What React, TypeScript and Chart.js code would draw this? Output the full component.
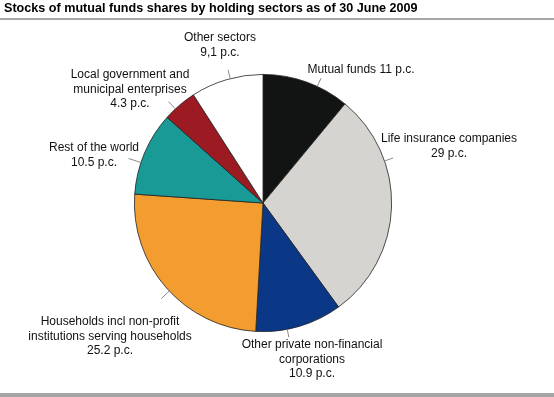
import { useEffect, useRef } from 'react';
import { Chart, registerables } from 'chart.js';

Chart.register(...registerables);

const title = 'Stocks of mutual funds shares by holding sectors as of 30 June 2009';

const categories = [
  'Mutual funds',
  'Life insurance companies',
  'Other private non-financial corporations',
  'Households incl non-profit institutions serving households',
  'Rest of the world',
  'Local government and municipal enterprises',
  'Other sectors',
];

const values = [11, 29, 10.9, 25.2, 10.5, 4.3, 9.1];

const valueLabels = ['11 p.c.', '29 p.c.', '10.9 p.c.', '25.2 p.c.', '10.5 p.c.', '4.3 p.c.', '9,1 p.c.'];

const colors = ['#121413', '#d5d4d0', '#0b3886', '#f39c2f', '#1a9a96', '#9c1a21', '#ffffff'];

// label text lines (wrapped as in the reference)
const labelLines = [
  ['Mutual funds ' + valueLabels[0]],
  ['Life insurance companies', valueLabels[1]],
  ['Other private non-financial', 'corporations', valueLabels[2]],
  ['Households incl non-profit', 'institutions serving households', valueLabels[3]],
  ['Rest of the world', valueLabels[4]],
  ['Local government and', 'municipal enterprises', valueLabels[5]],
  ['Other sectors', valueLabels[6]],
];

// layout: leader position within slice (fraction), leader length, text block centre offset from pie centre
const labelLayout = [
  { frac: 0.63, len: 9, dx: 98, dy: -133 },
  { frac: 0.3, len: 9, dx: 186, dy: -64 },
  { frac: 0.64, len: 8, dx: 49, dy: 142 },
  { frac: 0.48, len: 11, dx: -153, dy: 119 },
  { frac: 0.38, len: 13, dx: -169, dy: -55 },
  { frac: 0.34, len: 10, dx: -133, dy: -128 },
  { frac: 0.55, len: 9, dx: -43, dy: -165 },
];

const FONT = '"Liberation Sans", Arial, sans-serif';

const decorPlugin = {
  id: 'decor',
  afterDraw(chart: any) {
    const ctx = chart.ctx as CanvasRenderingContext2D;
    const W = chart.width;
    const H = chart.height;
    ctx.save();
    // title
    ctx.fillStyle = '#000';
    ctx.font = `bold 12.6px ${FONT}`;
    ctx.textAlign = 'left';
    ctx.textBaseline = 'middle';
    ctx.fillText(title, 4, 9);
    // rules
    ctx.fillStyle = '#a6a6a6';
    ctx.fillRect(0, 18, W, 2);
    ctx.fillRect(0, H - 4, W, 4);

    const meta = chart.getDatasetMeta(0);
    ctx.font = `12px ${FONT}`;
    ctx.textAlign = 'center';
    meta.data.forEach((arc: any, i: number) => {
      const lay = labelLayout[i];
      const { x, y, outerRadius, startAngle, endAngle } = arc.getProps(
        ['x', 'y', 'outerRadius', 'startAngle', 'endAngle'],
        true
      );
      const a = startAngle + (endAngle - startAngle) * lay.frac;
      ctx.strokeStyle = '#8a8a8a';
      ctx.lineWidth = 1;
      ctx.beginPath();
      ctx.moveTo(x + outerRadius * Math.cos(a), y + outerRadius * Math.sin(a));
      ctx.lineTo(x + (outerRadius + lay.len) * Math.cos(a), y + (outerRadius + lay.len) * Math.sin(a));
      ctx.stroke();
      ctx.fillStyle = '#111';
      labelLines[i].forEach((line, j) => {
        ctx.fillText(line, x + lay.dx, y + lay.dy + j * 14.5);
      });
    });
    ctx.restore();
  },
};

export default function App() {
  const ref = useRef<HTMLCanvasElement>(null);
  useEffect(() => {
    document.body.style.margin = '0';
    const chart = new Chart(ref.current!, {
      type: 'pie',
      data: {
        labels: categories,
        datasets: [
          {
            data: values,
            backgroundColor: colors,
            borderColor: '#222',
            borderWidth: 0.8,
            hoverOffset: 0,
          },
        ],
      },
      options: {
        animation: false,
        responsive: false,
        devicePixelRatio: 1,
        layout: { padding: { left: 134, right: 162, top: 74, bottom: 65 } },
        plugins: {
          legend: { display: false },
          title: { display: false },
          tooltip: { enabled: false },
        },
      },
      plugins: [decorPlugin],
    });
    return () => chart.destroy();
  }, []);
  return (
    <div style={{ position: 'absolute', left: 0, top: 0, width: 554, height: 397, background: '#fff' }}>
      <canvas ref={ref} width={554} height={397} />
    </div>
  );
}
